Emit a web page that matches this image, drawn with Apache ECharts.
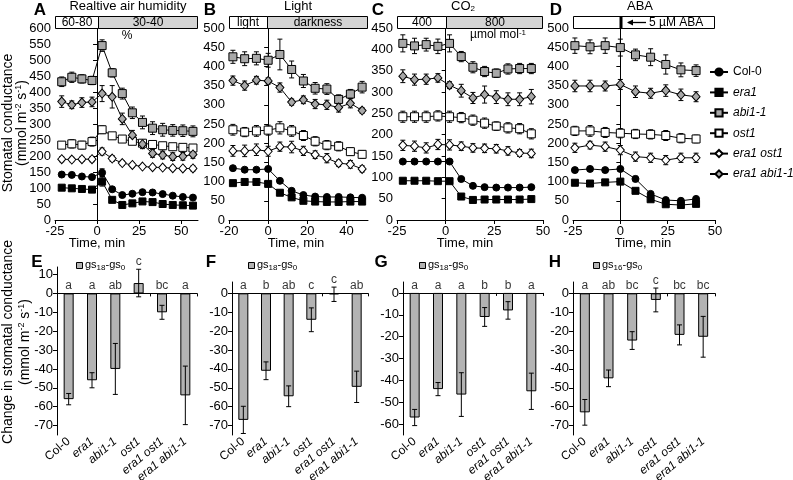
<!DOCTYPE html>
<html><head><meta charset="utf-8">
<script src="https://cdn.jsdelivr.net/npm/echarts@6/dist/echarts.min.js"></script>
<style>html,body{margin:0;padding:0;background:#fff}#c{width:793px;height:480px}</style>
</head><body><div id="c"></div>
<script>
// ---------- data ----------
const genotypes = ['Col-0', 'era1', 'abi1-1', 'ost1', 'era1 ost1', 'era1 abi1-1'];

// Panel A: relative air humidity
const tA = [-21, -15, -9, -3, 3, 9, 15, 21, 27, 33, 39, 45, 51, 57];
const A_col0 = [142, 141, 136, 134, 148, 96, 78, 82, 87, 86, 81, 76, 72, 70];
const A_era1 = [101, 99, 97, 95, 120, 63, 47, 52, 58, 56, 50, 47, 46, 45];
const A_abi1 = [432, 446, 441, 436, 545, 460, 395, 335, 305, 287, 282, 280, 279, 277];
const A_ost1 = [234, 238, 234, 245, 282, 263, 253, 246, 240, 236, 232, 229, 227, 225];
const A_era1ost1 = [190, 189, 190, 190, 214, 192, 178, 172, 167, 165, 164, 162, 161, 161];
const A_era1abi1 = [370, 360, 367, 369, 395, 385, 316, 265, 237, 208, 203, 198, 199, 205];
const A_col0_e = [5, 5, 5, 5, 12, 7, 6, 6, 6, 5, 5, 5, 5, 5];
const A_era1_e = [4, 4, 4, 4, 14, 6, 4, 4, 4, 4, 4, 4, 4, 4];
const A_abi1_e = [15, 16, 13, 13, 18, 13, 17, 18, 20, 20, 20, 18, 18, 17];
const A_ost1_e = [10, 13, 12, 14, 12, 10, 9, 9, 10, 10, 10, 9, 9, 8];
const A_era1ost1_e = [8, 7, 7, 8, 11, 9, 7, 7, 6, 6, 6, 6, 6, 8];
const A_era1abi1_e = [18, 12, 15, 15, 25, 35, 18, 15, 14, 12, 12, 12, 12, 12];

// Panel B: light
const tB = [-18, -12, -6, 0, 6, 12, 18, 24, 30, 36, 42, 48];
const B_col0 = [135, 131, 131, 133, 102, 76, 65, 61, 60, 60, 59, 58];
const B_era1 = [96, 99, 99, 94, 71, 59, 50, 48, 47, 47, 48, 48];
const B_abi1 = [425, 420, 421, 416, 431, 392, 362, 343, 341, 314, 328, 346];
const B_ost1 = [235, 229, 232, 234, 240, 232, 220, 205, 195, 192, 178, 171];
const B_era1ost1 = [180, 180, 183, 179, 191, 190, 180, 170, 161, 148, 145, 133];
const B_era1abi1 = [363, 350, 364, 362, 345, 307, 313, 302, 300, 293, 304, 285];
const B_col0_e = [5, 4, 4, 4, 5, 4, 4, 4, 4, 4, 4, 4];
const B_era1_e = [4, 3, 3, 3, 4, 3, 3, 3, 3, 3, 3, 3];
const B_abi1_e = [17, 18, 17, 18, 40, 22, 17, 15, 14, 12, 12, 15];
const B_ost1_e = [14, 12, 14, 13, 16, 14, 13, 12, 12, 12, 10, 10];
const B_era1ost1_e = [14, 15, 15, 13, 12, 15, 12, 10, 12, 8, 10, 8];
const B_era1abi1_e = [12, 12, 10, 8, 12, 8, 10, 12, 12, 12, 12, 7];

// Panel C: CO2
const tC = [-22, -16, -10, -4, 2, 8, 14, 20, 26, 32, 38, 44];
const C_col0 = [137, 137, 137, 137, 137, 96, 80, 77, 76, 76, 76, 77];
const C_era1 = [92, 92, 92, 91, 91, 55, 47, 48, 48, 48, 48, 49];
const C_abi1 = [414, 408, 411, 407, 414, 383, 358, 348, 344, 354, 355, 355];
const C_ost1 = [242, 242, 242, 244, 242, 240, 234, 227, 220, 216, 214, 202];
const C_era1ost1 = [175, 173, 169, 177, 176, 173, 169, 168, 167, 162, 157, 156];
const C_era1abi1 = [337, 329, 330, 333, 316, 303, 286, 294, 288, 283, 283, 289];
const C_col0_e = [3, 3, 3, 3, 3, 4, 3, 3, 3, 3, 3, 3];
const C_era1_e = [3, 3, 3, 3, 3, 3, 3, 3, 3, 3, 3, 3];
const C_abi1_e = [20, 18, 15, 17, 20, 12, 13, 12, 10, 12, 12, 12];
const C_ost1_e = [13, 13, 13, 12, 13, 12, 12, 12, 10, 12, 12, 12];
const C_era1ost1_e = [12, 12, 12, 12, 12, 10, 10, 10, 10, 10, 8, 10];
const C_era1abi1_e = [15, 13, 12, 10, 8, 15, 13, 20, 15, 15, 15, 17];

// Panel D: ABA
const tD = [-24, -16, -8, 0, 8, 16, 24, 32, 40];
const D_col0 = [130, 133, 130, 133, 107, 68, 52, 50, 55];
const D_era1 = [97, 95, 98, 100, 76, 54, 41, 39, 42];
const D_abi1 = [454, 451, 454, 449, 430, 424, 405, 391, 389];
const D_ost1 = [232, 232, 228, 226, 224, 223, 220, 213, 211];
const D_era1ost1 = [188, 195, 191, 182, 165, 162, 156, 162, 162];
const D_era1abi1 = [349, 349, 349, 353, 334, 330, 337, 326, 321];
const D_col0_e = [5, 6, 5, 5, 7, 4, 4, 4, 4];
const D_era1_e = [4, 4, 4, 4, 5, 4, 4, 4, 4];
const D_abi1_e = [20, 18, 20, 22, 15, 22, 25, 18, 15];
const D_ost1_e = [12, 14, 13, 12, 12, 12, 13, 12, 10];
const D_era1ost1_e = [12, 10, 12, 12, 12, 12, 12, 12, 12];
const D_era1abi1_e = [15, 15, 13, 13, 15, 13, 15, 15, 13];

// Bar panels: change in stomatal conductance
const E_mean = [-56, -46, -40, 5.5, -10, -54];
const E_err = [3, 4, 13.5, 7.3, 3.7, 15.5];
const E_sig = ['a', 'a', 'ab', 'c', 'bc', 'a'];
const F_mean = [-67, -41, -54.5, -14, -0.5, -49.5];
const F_err = [7.2, 4.7, 5.5, 6.3, 3.8, 8.3];
const F_sig = ['a', 'b', 'ab', 'c', 'c', 'ab'];
const G_mean = [-57, -44, -46.5, -11, -8, -45];
const G_err = [3.7, 3, 10, 4.3, 4, 8.3];
const G_sig = ['a', 'a', 'a', 'b', 'b', 'a'];
const H_mean = [-63, -45, -25, -3.5, -22, -23];
const H_err = [6.8, 4.4, 4.7, 6.3, 5.3, 10.8];
const H_sig = ['a', 'ab', 'bc', 'c', 'bc', 'bc'];

// ---------- build ----------
const FONT = 'Liberation Sans, Arial, sans-serif';
const GRAY = '#a8a8a8';
const markStyle = {
  'Col-0': { symbol: 'circle', size: 7, fill: '#000' },
  'era1': { symbol: 'rect', size: 7, fill: '#000' },
  'abi1-1': { symbol: 'rect', size: 8, fill: GRAY },
  'ost1': { symbol: 'rect', size: 8, fill: '#fff' },
  'era1 ost1': { symbol: 'diamond', size: [8, 9], fill: '#fff' },
  'era1 abi1-1': { symbol: 'diamond', size: [8, 9], fill: GRAY }
};

const topPanels = [
  { t: tA, v: [A_col0, A_era1, A_abi1, A_ost1, A_era1ost1, A_era1abi1], e: [A_col0_e, A_era1_e, A_abi1_e, A_ost1_e, A_era1ost1_e, A_era1abi1_e],
    grid: { left: 55, top: 28, width: 143, height: 192 }, xmin: -25, xmax: 60, xticks: [-25, 0, 25, 50], ymax: 600 },
  { t: tB, v: [B_col0, B_era1, B_abi1, B_ost1, B_era1ost1, B_era1abi1], e: [B_col0_e, B_era1_e, B_abi1_e, B_ost1_e, B_era1ost1_e, B_era1abi1_e],
    grid: { left: 229, top: 28, width: 139, height: 192 }, xmin: -20, xmax: 51, xticks: [-20, 0, 20, 40], ymax: 500 },
  { t: tC, v: [C_col0, C_era1, C_abi1, C_ost1, C_era1ost1, C_era1abi1], e: [C_col0_e, C_era1_e, C_abi1_e, C_ost1_e, C_era1ost1_e, C_era1abi1_e],
    grid: { left: 397, top: 28, width: 146, height: 192 }, xmin: -25, xmax: 50, xticks: [-25, 0, 25, 50], ymax: 450 },
  { t: tD, v: [D_col0, D_era1, D_abi1, D_ost1, D_era1ost1, D_era1abi1], e: [D_col0_e, D_era1_e, D_abi1_e, D_ost1_e, D_era1ost1_e, D_era1abi1_e],
    grid: { left: 573, top: 28, width: 142, height: 192 }, xmin: -25, xmax: 50, xticks: [-25, 0, 25, 50], ymax: 500 }
];
const barPanels = [
  { m: E_mean, e: E_err, s: E_sig, grid: { left: 57, top: 267, width: 140, height: 168 }, ymin: -75, ymax: 14, yticks: [-70, -60, -50, -40, -30, -20, -10, 0, 10] },
  { m: F_mean, e: F_err, s: F_sig, grid: { left: 232, top: 282, width: 136, height: 153 }, ymin: -75, ymax: 6, yticks: [-70, -60, -50, -40, -30, -20, -10, 0] },
  { m: G_mean, e: G_err, s: G_sig, grid: { left: 403, top: 282, width: 140, height: 153 }, ymin: -65, ymax: 5, yticks: [-60, -50, -40, -30, -20, -10, 0] },
  { m: H_mean, e: H_err, s: H_sig, grid: { left: 573, top: 282, width: 142, height: 153 }, ymin: -75, ymax: 6, yticks: [-70, -60, -50, -40, -30, -20, -10, 0] }
];

const axLine = { show: true, lineStyle: { color: '#000', width: 1 } };
const grids = [], xAxes = [], yAxes = [], series = [];

function errRender(cap) {
  return function (params, api) {
    const x = api.value(0), y = api.value(1), e = api.value(2);
    const p1 = api.coord([x, y + e]), p2 = api.coord([x, y - e]);
    const st = { stroke: '#000', lineWidth: 1 };
    return { type: 'group', children: [
      { type: 'line', shape: { x1: p1[0], y1: p1[1], x2: p2[0], y2: p2[1] }, style: st },
      { type: 'line', shape: { x1: p1[0] - cap, y1: p1[1], x2: p1[0] + cap, y2: p1[1] }, style: st },
      { type: 'line', shape: { x1: p2[0] - cap, y1: p2[1], x2: p2[0] + cap, y2: p2[1] }, style: st }
    ] };
  };
}

topPanels.forEach((p, gi) => {
  grids.push(Object.assign({ containLabel: false, outerBoundsMode: 'none' }, p.grid));
  xAxes.push({
    gridIndex: gi, type: 'value', min: p.xmin, max: p.xmax,
    axisLine: Object.assign({ onZero: false }, axLine),
    axisTick: { show: true, length: 4, lineStyle: { color: '#000' }, customValues: p.xticks },
    axisLabel: { color: '#000', fontSize: 13, fontFamily: FONT, margin: 5, customValues: p.xticks },
    splitLine: { show: false }
  });
  yAxes.push({
    gridIndex: gi, type: 'value', min: 0, max: p.ymax, interval: 50,
    axisLine: axLine,
    axisTick: { show: true, length: 4, lineStyle: { color: '#000' } },
    axisLabel: { color: '#000', fontSize: 13, fontFamily: FONT, margin: 4, showMaxLabel: true },
    splitLine: { show: false }
  });
  genotypes.forEach((g, k) => {
    const ms = markStyle[g];
    series.push({
      type: 'custom', xAxisIndex: gi, yAxisIndex: gi, z: 2, silent: true,
      renderItem: errRender(2.5),
      data: p.t.map((t, i) => [t, p.v[k][i], p.e[k][i]])
    });
    series.push({
      name: g, type: 'line', xAxisIndex: gi, yAxisIndex: gi, z: 3,
      symbol: ms.symbol, symbolSize: ms.size, showAllSymbol: true,
      lineStyle: { color: '#000', width: 1 },
      itemStyle: { color: ms.fill, borderColor: '#000', borderWidth: 1 },
      data: p.t.map((t, i) => [t, p.v[k][i]])
    });
  });
});

barPanels.forEach((p, bi) => {
  const gi = 4 + bi;
  grids.push(Object.assign({ containLabel: false, outerBoundsMode: 'none' }, p.grid));
  const xl = xAxes.length;
  xAxes.push({
    gridIndex: gi, type: 'category', data: genotypes, position: 'bottom',
    axisLine: { show: false, onZero: false }, axisTick: { show: false },
    axisLabel: {
      rotate: 40, fontSize: 12, color: '#000', fontFamily: FONT, margin: 5, interval: 0,
      formatter: v => v === 'Col-0' ? v : '{i|' + v + '}',
      rich: { i: { fontStyle: 'italic', fontSize: 12, fontFamily: FONT, color: '#000' } }
    }
  });
  xAxes.push({
    gridIndex: gi, type: 'category', data: genotypes, position: 'bottom',
    axisLine: { show: true, onZero: true, lineStyle: { color: '#000', width: 1 } },
    axisTick: { show: true, length: 3, lineStyle: { color: '#000' } },
    axisLabel: { show: false }
  });
  yAxes.push({
    gridIndex: gi, type: 'value', min: p.ymin, max: p.ymax,
    axisLine: axLine,
    axisTick: { show: true, length: 4, lineStyle: { color: '#000' }, customValues: p.yticks },
    axisLabel: { color: '#000', fontSize: 13, fontFamily: FONT, margin: 4, customValues: p.yticks },
    splitLine: { show: false }
  });
  series.push({
    type: 'bar', xAxisIndex: xl, yAxisIndex: gi, barWidth: 10, z: 2, silent: true,
    itemStyle: { color: '#b3b3b3', borderColor: '#000', borderWidth: 1 },
    data: p.m
  });
  series.push({
    type: 'custom', xAxisIndex: xl, yAxisIndex: gi, z: 3, silent: true,
    renderItem: errRender(2.5),
    data: p.m.map((m, i) => [i, m, p.e[i]])
  });
  series.push({
    type: 'scatter', xAxisIndex: xl, yAxisIndex: gi, z: 4, silent: true,
    symbolSize: 1, itemStyle: { color: 'transparent' },
    label: { show: true, position: 'top', distance: 1, color: '#000', fontSize: 12, fontFamily: FONT,
      formatter: (q) => p.s[q.dataIndex] },
    data: p.m.map((m, i) => [i, Math.max(0, m + p.e[i])])
  });
});

// ---------- annotations ----------
const txt = (x, y, text, o) => ({ type: 'text', x, y, silent: true, z: 10,
  style: Object.assign({ text, fill: '#000', fontSize: 13, fontFamily: FONT, align: 'center', verticalAlign: 'middle' }, o || {}) });
const rect = (x, y, w, h, fill) => ({ type: 'rect', silent: true, z: 9, shape: { x, y, width: w, height: h },
  style: { fill, stroke: '#000', lineWidth: 1 } });
const g = [];
// panel letters
[['A', 40, 10], ['B', 210, 10], ['C', 378, 10], ['D', 556, 10], ['E', 37, 262], ['F', 211, 262], ['G', 381, 262], ['H', 555, 262]]
  .forEach(([t, x, y]) => g.push(txt(x, y, t, { fontSize: 17, fontWeight: 'bold' })));
// titles
g.push(txt(128, 6, 'Realtive air humidity'));
g.push(txt(298, 6, 'Light'));
g.push(txt(463, 6, '{n|CO}{s|2}', { rich: { n: { fontSize: 13, fontFamily: FONT, lineHeight: 14 }, s: { fontSize: 8, fontFamily: FONT, verticalAlign: 'bottom', lineHeight: 14 } } }));
g.push(txt(640, 6, 'ABA'));
// boxes
g.push(rect(55.5, 16.5, 43, 12, '#fff'), rect(98.5, 16.5, 99, 12, '#d4d4d4'));
g.push(txt(77, 23, '60-80', { fontSize: 12 }), txt(148, 23, '30-40', { fontSize: 12 }), txt(127, 36, '%', { fontSize: 12 }));
g.push(rect(229.5, 16.5, 38, 12, '#fff'), rect(267.5, 16.5, 100, 12, '#d4d4d4'));
g.push(txt(248, 23, 'light', { fontSize: 12 }), txt(318, 23, 'darkness', { fontSize: 12 }));
g.push(rect(397.5, 16.5, 49, 12, '#fff'), rect(446.5, 16.5, 96, 12, '#d4d4d4'));
g.push(txt(422, 23, '400', { fontSize: 12 }), txt(495, 23, '800', { fontSize: 12 }));
g.push(txt(498, 35, '{n|µmol mol}{s|-1}', { rich: { n: { fontSize: 12, fontFamily: FONT, lineHeight: 13 }, s: { fontSize: 8, fontFamily: FONT, verticalAlign: 'top', lineHeight: 13 } } }));
g.push(rect(573.5, 16.5, 141, 12, '#fff'));
g.push({ type: 'line', silent: true, z: 11, shape: { x1: 621, y1: 16, x2: 621, y2: 29 }, style: { stroke: '#000', lineWidth: 3 } });
g.push({ type: 'line', silent: true, z: 11, shape: { x1: 628, y1: 22.5, x2: 646, y2: 22.5 }, style: { stroke: '#000', lineWidth: 1.3 } });
g.push({ type: 'polygon', silent: true, z: 11, shape: { points: [[627, 22.5], [633, 19.5], [633, 25.5]] }, style: { fill: '#000' } });
g.push(txt(649, 23, '5 µM ABA', { fontSize: 12, align: 'left' }));
// x-axis names
[[97, 243], [296, 243], [465, 243], [643, 243]].forEach(([x, y]) => g.push(txt(x, y, 'Time, min')));
// y-axis names
const supRich = { n: { fontSize: 14, fontFamily: FONT, lineHeight: 16 }, s: { fontSize: 9, fontFamily: FONT, verticalAlign: 'top', lineHeight: 16 } };
g.push(Object.assign(txt(8, 123, 'Stomatal conductance', { fontSize: 14 }), { rotation: Math.PI / 2 }));
g.push(Object.assign(txt(22, 123, '{n|(mmol m}{s|-2}{n| s}{s|-1}{n|)}', { rich: supRich }), { rotation: Math.PI / 2 }));
g.push(Object.assign(txt(8, 342, 'Change in stomatal conductance', { fontSize: 14 }), { rotation: Math.PI / 2 }));
g.push(Object.assign(txt(25, 342, '{n|(mmol m}{s|-2}{n| s}{s|-1}{n|)}', { rich: supRich }), { rotation: Math.PI / 2 }));
// bar legends
const subRich = { n: { fontSize: 11, fontFamily: FONT, lineHeight: 13 }, s: { fontSize: 8, fontFamily: FONT, verticalAlign: 'bottom', lineHeight: 13 } };
[[76, '18'], [248, '18'], [419, '18'], [593, '16']].forEach(([x, sub]) => {
  g.push(rect(x + 0.5, 262.5, 6, 6, '#b3b3b3'));
  g.push(txt(x + 9, 265, '{n|gs}{s|' + sub + '}{n|-gs}{s|0}', { align: 'left', rich: subRich }));
});

const option = {
  animation: false,
  backgroundColor: '#fff',
  textStyle: { fontFamily: FONT },
  grid: grids, xAxis: xAxes, yAxis: yAxes, series,
  legend: {
    orient: 'vertical', left: 709, top: 66, itemWidth: 18, itemHeight: 9, itemGap: 8.4,
    padding: 0, selectedMode: false, data: genotypes,
    textStyle: { fontSize: 12, color: '#000', fontFamily: FONT, overflow: 'none', width: 100,
      rich: { i: { fontStyle: 'italic', fontSize: 12, color: '#000', fontFamily: FONT } } },
    formatter: n => n === 'Col-0' ? n : '{i|' + n + '}'
  },
  graphic: g
};
const chart = echarts.init(document.getElementById('c'), null, { renderer: 'canvas' });
chart.setOption(option);
</script></body></html>
